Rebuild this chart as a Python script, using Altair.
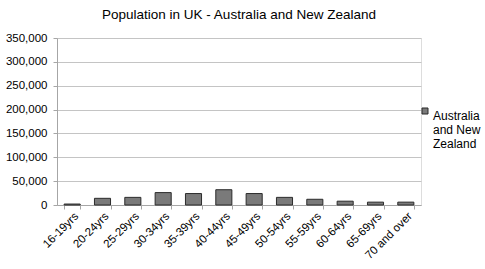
import altair as alt
import pandas as pd

categories = ["16-19yrs", "20-24yrs", "25-29yrs", "30-34yrs", "35-39yrs", "40-44yrs",
              "45-49yrs", "50-54yrs", "55-59yrs", "60-64yrs", "65-69yrs", "70 and over"]
values = [2000, 14000, 16000, 26000, 24000, 32000, 24000, 16000, 12000, 8000, 6000, 6000]
series = "Australia and New Zealand"

df = pd.DataFrame({"age": categories, "pop": values, "series": [series] * len(categories)})

FONT = "Liberation Sans"

chart = alt.Chart(df).mark_bar(
    fill="#7a7a7a", stroke="#2b2b2b", strokeWidth=1
).encode(
    x=alt.X("age:N", sort=categories, title=None,
            scale=alt.Scale(paddingInner=0.47, paddingOuter=0.235),
            axis=alt.Axis(labelAngle=-45, labelAlign="right", labelBaseline="top",
                          labelFontSize=11.5, labelColor="#000000", labelFont=FONT,
                          tickBand="extent", tickSize=4, tickColor="#a6a6a6",
                          domainColor="#a6a6a6", labelPadding=1, grid=False)),
    y=alt.Y("pop:Q", title=None,
            scale=alt.Scale(domain=[0, 350000], nice=False),
            axis=alt.Axis(values=list(range(0, 350001, 50000)), format=",d",
                          labelFontSize=11.5, labelColor="#000000", labelFont=FONT,
                          tickSize=4, tickColor="#a6a6a6", domainColor="#a6a6a6",
                          gridColor="#c4c4c4", labelPadding=6)),
    color=alt.Color("series:N", scale=alt.Scale(range=["#7a7a7a"]),
                    legend=alt.Legend(title=None, orient="none", legendX=362, legendY=67,
                                      symbolType="square", symbolSize=36,
                                      symbolStrokeColor="#2b2b2b", symbolStrokeWidth=1,
                                      labelFont=FONT, labelFontSize=12, labelColor="#000000",
                                      labelBaseline="top", labelOffset=2,
                                      labelExpr="['Australia', 'and New', 'Zealand']")),
).properties(
    width=364, height=167,
    title=alt.TitleParams("Population in UK - Australia and New Zealand",
                          font=FONT, fontSize=13.5, fontWeight="normal", color="#000000",
                          anchor="middle", offset=11),
    padding={"left": 57, "top": 38, "right": 64, "bottom": 64},
    autosize=alt.AutoSizeParams(type="none"),
).configure_view(stroke=None).configure(background="white")

chart.save("out.html", embed_options={"renderer": "svg", "actions": False})
